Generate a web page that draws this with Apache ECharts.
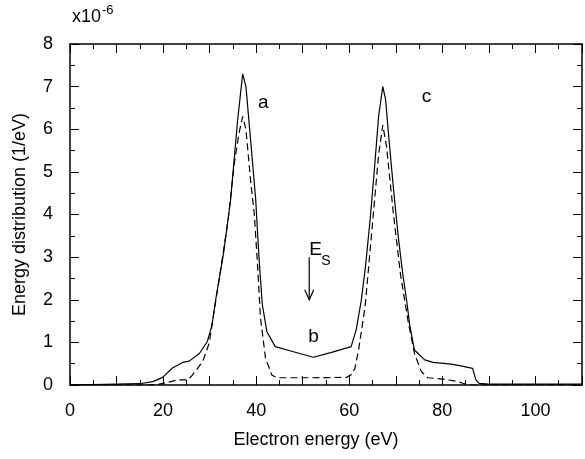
<!DOCTYPE html>
<html>
<head>
<meta charset="utf-8">
<script src="https://cdn.jsdelivr.net/npm/echarts@6/dist/echarts.min.js"></script>
<style>
html,body{margin:0;padding:0;background:#fff;}
#c{width:585px;height:459px;}
</style>
</head>
<body>
<div id="c"></div>
<script>
// Solid curve (a and c)
var solidE = [0, 5, 10, 15, 17.8, 19.9, 22, 24.2, 25.6, 27.8, 29.5, 30.5, 31.3, 33, 34.5, 36, 37.1, 37.8, 39, 39.9, 40.6, 41.3, 42.3, 44.1, 48, 52.3, 56, 60.4, 61.5, 62.6, 63.5, 64.5, 65.5, 66.3, 67.2, 67.8, 68.5, 69.5, 70.5, 71.5, 72.3, 73, 74, 74.8, 76.2, 78, 81.9, 84, 86.5, 87.2, 87.9, 90, 110];
var solidV = [0.01, 0.01, 0.02, 0.03, 0.08, 0.18, 0.40, 0.53, 0.56, 0.74, 1.02, 1.40, 2.00, 3.10, 4.34, 6.20, 7.30, 7.00, 5.50, 4.34, 3.00, 1.90, 1.25, 0.90, 0.78, 0.65, 0.76, 0.90, 1.30, 2.00, 2.80, 3.90, 5.20, 6.30, 7.00, 6.70, 5.80, 4.60, 3.50, 2.60, 2.00, 1.40, 0.82, 0.74, 0.59, 0.53, 0.49, 0.45, 0.39, 0.12, 0.04, 0.02, 0.02];
// Dashed curve (b)
var dashE = [0, 17, 18.5, 20.6, 23.1, 25.3, 26.3, 28.5, 29.9, 31, 32.5, 34, 35.3, 36.3, 37.1, 37.8, 38.8, 39.6, 40.3, 40.9, 42, 43.4, 44.5, 52, 59.5, 60.5, 61.2, 62, 63.4, 65, 66.3, 67.2, 68, 69.5, 71, 72.6, 74, 75.5, 76.9, 79, 81.2, 83.3, 84.4, 86, 110];
var dashV = [0, 0, 0.01, 0.05, 0.12, 0.12, 0.23, 0.55, 0.98, 1.76, 2.80, 3.90, 5.20, 5.90, 6.30, 6.00, 4.80, 4.00, 2.80, 1.60, 0.63, 0.23, 0.17, 0.17, 0.18, 0.25, 0.39, 0.82, 1.84, 3.80, 5.40, 6.10, 5.60, 4.00, 2.60, 1.52, 0.74, 0.31, 0.17, 0.15, 0.12, 0.08, 0.04, 0.00, 0.00];
// Annotations [E, value]
var labelA = [41.5, 6.63];
var labelB = [52.3, 1.13];
var labelC = [76.6, 6.76];
var arrowEs = [[51.4, 3.0], [51.4, 2.0]];
var xTicks = [0, 20, 40, 60, 80, 100];

function zip(a, b) { return a.map(function (v, i) { return [v, b[i]]; }); }

var FONT = '"Liberation Sans", Arial, Helvetica, sans-serif';
var chart = echarts.init(document.getElementById('c'), null, {renderer: 'canvas'});

function xAxisDef(pos, showLabel) {
  return {
    type: 'value', position: pos, min: 0, max: 110, interval: 10,
    axisLine: {show: true, onZero: false, lineStyle: {color: '#000', width: 1.5}},
    axisTick: {show: true, inside: true, length: 9, lineStyle: {color: '#000', width: 1}},
    minorTick: {show: true, splitNumber: 2, length: 5, lineStyle: {color: '#000', width: 1}},
    splitLine: {show: false}, minorSplitLine: {show: false},
    axisLabel: {show: showLabel, margin: 17, color: '#000', fontSize: 18, fontFamily: FONT,
      formatter: function (v) { return xTicks.indexOf(v) >= 0 ? String(v) : ''; }}
  };
}
function yAxisDef(pos, showLabel) {
  return {
    type: 'value', position: pos, min: 0, max: 8, interval: 1,
    axisLine: {show: true, onZero: false, lineStyle: {color: '#000', width: 1.5}},
    axisTick: {show: true, inside: true, length: 9, lineStyle: {color: '#000', width: 1}},
    minorTick: {show: true, splitNumber: 2, length: 5, lineStyle: {color: '#000', width: 1}},
    splitLine: {show: false}, minorSplitLine: {show: false},
    axisLabel: {show: showLabel, margin: 17, color: '#000', fontSize: 18, fontFamily: FONT}
  };
}

chart.setOption({
  backgroundColor: '#fff',
  animation: false,
  grid: {left: 70, top: 44, width: 516, height: 341, containLabel: false},
  xAxis: [xAxisDef('bottom', true), xAxisDef('top', false)],
  yAxis: [yAxisDef('left', true), yAxisDef('right', false)],
  series: [
    {type: 'line', data: zip(solidE, solidV), showSymbol: false, symbol: 'none',
      lineStyle: {color: '#000', width: 1.2}, z: 3},
    {type: 'line', data: zip(dashE, dashV), showSymbol: false, symbol: 'none',
      lineStyle: {color: '#000', width: 1.2, type: [7, 4]}, z: 3}
  ]
});

function px(p) { return chart.convertToPixel({xAxisIndex: 0, yAxisIndex: 0}, p); }
var pa = px(labelA), pb = px(labelB), pc = px(labelC);
var a0 = px(arrowEs[0]), a1 = px(arrowEs[1]);
var txt = function (x, y, s, size, align) {
  return {type: 'text', x: x, y: y, style: {text: s, fill: '#000', font: size + 'px ' + FONT,
    textAlign: align || 'center', textVerticalAlign: 'middle'}};
};
chart.setOption({
  graphic: [
    txt(pa[0], pa[1], 'a', 19),
    txt(pb[0], pb[1], 'b', 19),
    txt(pc[0], pc[1], 'c', 19),
    txt(a0[0], a0[1] - 7, 'E', 19, 'left'),
    txt(a0[0] + 12, a0[1] + 4, 'S', 14, 'left'),
    {type: 'polyline', shape: {points: [a0, a1]}, style: {stroke: '#000', lineWidth: 1.2, fill: null}},
    {type: 'polyline', shape: {points: [[a1[0] - 4.5, a1[1] - 10], a1, [a1[0] + 4.5, a1[1] - 10]]},
      style: {stroke: '#000', lineWidth: 1.2, fill: null}},
    {type: 'text', x: 72, y: 17, style: {text: 'x10', fill: '#000', font: '18px ' + FONT,
      textAlign: 'left', textVerticalAlign: 'middle'}},
    {type: 'text', x: 102, y: 10, style: {text: '-6', fill: '#000', font: '13px ' + FONT,
      textAlign: 'left', textVerticalAlign: 'middle'}},
    {type: 'text', x: 316, y: 440, style: {text: 'Electron energy (eV)', fill: '#000', font: '18px ' + FONT,
      textAlign: 'center', textVerticalAlign: 'middle'}},
    {type: 'text', x: 20, y: 214.5, rotation: Math.PI / 2, style: {text: 'Energy distribution (1/eV)', fill: '#000',
      font: '18px ' + FONT, textAlign: 'center', textVerticalAlign: 'middle'}}
  ]
});
</script>
</body>
</html>
